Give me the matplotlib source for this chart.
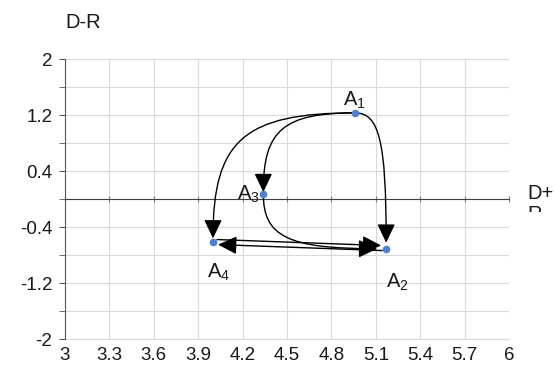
import numpy as np
import matplotlib
matplotlib.use("Agg")
from matplotlib import pyplot as plt
from matplotlib.patches import FancyArrowPatch
from matplotlib.path import Path
from matplotlib.transforms import Bbox

# alternatives and their (D+R, D-R) coordinates
labels = ["A1", "A2", "A3", "A4"]
d_plus_r = [4.96, 5.17, 4.34, 4.00]
d_minus_r = [1.23, -0.71, 0.07, -0.62]

# influence arrows (from, to)
curved_links = [("A1", "A4"), ("A1", "A3"), ("A1", "A2"), ("A3", "A2")]
straight_links = [("A4", "A2"), ("A2", "A4")]

x_ticks = [3, 3.3, 3.6, 3.9, 4.2, 4.5, 4.8, 5.1, 5.4, 5.7, 6]
y_ticks = [-2, -1.2, -0.4, 0.4, 1.2, 2]
y_minor = [-1.6, -0.8, 0, 0.8, 1.6]

plt.rcParams['font.family'] = ['Liberation Sans', 'DejaVu Sans']
plt.rcParams['mathtext.fontset'] = 'custom'
plt.rcParams['mathtext.rm'] = 'Liberation Sans'
plt.rcParams['mathtext.default'] = 'regular'

W, H = 554, 369
fig = plt.figure(figsize=(W / 100, H / 100), dpi=100)
ax = fig.add_axes([65 / W, 30 / H, 444 / W, 280 / H])
ax.set_xlim(3, 6)
ax.set_ylim(-2, 2)

grid_col = '#d9d9d9'
axis_col = '#595959'
text_col = '#1a1a1a'

#Ticks and grid
ax.set_xticks(x_ticks)
ax.set_yticks(y_ticks)
ax.set_yticks(y_minor, minor=True)
fmt = lambda v, p: f"{v:g}"
ax.yaxis.set_major_formatter(fmt)
ax.grid(True, which='both', color=grid_col, lw=0.8)
ax.set_axisbelow(True)
ax.tick_params(axis='y', which='both', direction='out', length=4, color=axis_col,
               labelsize=13.5, pad=5, labelcolor=text_col)
for s in ['top', 'right']:
    ax.spines[s].set_visible(False)
ax.spines['left'].set_color(axis_col)

#Horizontal axis crosses at zero, labels stay at the bottom
ax.spines['bottom'].set_position(('data', 0))
ax.spines['bottom'].set_color('#404040')
ax.tick_params(axis='x', direction='inout', length=4, color='#808080', labelbottom=False)

sec = ax.secondary_xaxis('bottom')
sec.set_xticks(x_ticks)
sec.xaxis.set_major_formatter(fmt)
sec.tick_params(length=0, labelsize=13.5, pad=6, labelcolor=text_col)
sec.spines['bottom'].set_color(grid_col)

#Points
ax.plot(d_plus_r, d_minus_r, 'o', color='#4a80dc', ms=4.5, zorder=6)

#Point labels, offsets in pixels (left, baseline)
label_offsets = {"A1": (-12, 7), "A2": (0, -39), "A3": (-26, -6), "A4": (-6, -35)}
for name, x, y in zip(labels, d_plus_r, d_minus_r):
    ax.annotate(f"{name[0]}$_{name[1]}$", (x, y), xytext=label_offsets[name],
                textcoords='offset pixels', ha='left', va='baseline', size=14.5,
                color=text_col, zorder=7)

#Arrows
pix = {n: ax.transData.transform((x, y)) for n, x, y in zip(labels, d_plus_r, d_minus_r)}
inv = ax.transData.inverted()
style = '-|>,head_length=1.15,head_width=0.55'

def curved_path(p0, p3, first, gap, k=0.78):
    """Elbow-like cubic bezier built in pixels, returned in data coords"""
    p0 = np.array(p0, float)
    p3 = np.array(p3, float)
    if first == 'h':
        corner = np.array([p3[0], p0[1]])
        p3[1] += gap * np.sign(p0[1] - p3[1])
    else:
        corner = np.array([p0[0], p3[1]])
        p3[0] += gap * np.sign(p0[0] - p3[0])
    p1 = p0 + k * (corner - p0)
    p2 = p3 + k * (corner - p3)
    verts = inv.transform(np.array([p0, p1, p2, p3]))
    return Path(verts, [Path.MOVETO, Path.CURVE4, Path.CURVE4, Path.CURVE4])

curve_shape = {("A1", "A4"): ('h', 4), ("A1", "A3"): ('h', 2),
               ("A1", "A2"): ('h', 6), ("A3", "A2"): ('v', 9)}
for a, b in curved_links:
    first, gap = curve_shape[(a, b)]
    path = curved_path(pix[a], pix[b], first, gap)
    ax.add_patch(FancyArrowPatch(path=path, arrowstyle=style, mutation_scale=10,
                                 color='black', lw=1.0, zorder=4))

line_shift = {("A4", "A2"): 3, ("A2", "A4"): -2}
for a, b in straight_links:
    pa = pix[a] + np.array([0, line_shift[(a, b)]])
    pb = pix[b] + np.array([0, line_shift[(a, b)]])
    d = (pb - pa) / np.hypot(*(pb - pa))
    pa, pb = inv.transform(pa + 4 * d), inv.transform(pb - 5 * d)
    ax.add_patch(FancyArrowPatch(pa, pb, arrowstyle=style, mutation_scale=10,
                                 shrinkA=0, shrinkB=0, color='black', lw=1.0, zorder=4))

#Axis titles
fig.text(65 / W, 1 - 22 / H, "D-R", ha='left', va='center', size=14.5, color=text_col)
t = fig.text(527 / W, 1 - 184 / H, "D+\nR", ha='left', va='top', size=14.5,
             linespacing=1.1, color=text_col)
t.set_clip_box(Bbox.from_extents(0, H - 212, W, H))
t.set_clip_on(True)

fig.savefig('out.png', dpi=100)
